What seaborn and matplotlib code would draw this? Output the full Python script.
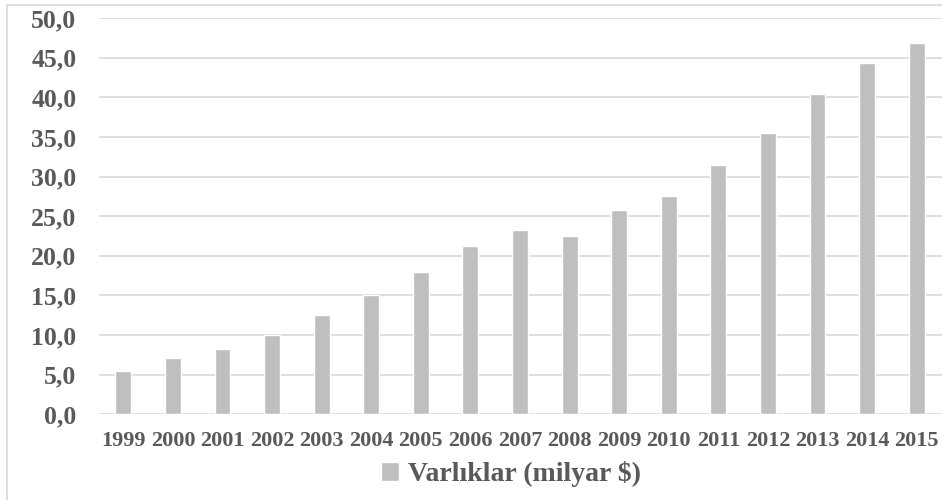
import matplotlib
matplotlib.use("Agg")
import matplotlib.pyplot as plt
from matplotlib.patches import Rectangle
from matplotlib.ticker import FuncFormatter, MultipleLocator
import seaborn as sns
import pandas as pd

years = ["1999", "2000", "2001", "2002", "2003", "2004", "2005", "2006", "2007",
         "2008", "2009", "2010", "2011", "2012", "2013", "2014", "2015"]
assets = [5.5, 7.1, 8.2, 10.0, 12.5, 15.1, 18.0, 21.2, 23.3,
          22.5, 25.8, 27.6, 31.5, 35.5, 40.4, 44.3, 46.9]
series_label = "Varlıklar (milyar $)"

BAR = "#BFBFBF"
TEXT = "#595959"
GRID = "#D9D9D9"

sns.set_theme(style="white")
plt.rcParams["font.family"] = ["Liberation Serif", "DejaVu Serif"]
plt.rcParams["font.weight"] = "bold"

df = pd.DataFrame({"year": years, "value": assets})

fig = plt.figure(figsize=(9.42, 5.0), dpi=100)
ax = fig.add_axes([98.5 / 942, 1 - 414.3 / 500, 843 / 942, (414.3 - 18) / 500])

sns.barplot(data=df, x="year", y="value", color=BAR, saturation=1, width=0.32,
            label=series_label, ax=ax, zorder=3)

ax.set_ylim(0, 50)
ax.set_xlim(-0.5, len(years) - 0.5)
ax.yaxis.set_major_locator(MultipleLocator(5))
ax.yaxis.set_major_formatter(FuncFormatter(lambda v, _: f"{v:.1f}".replace(".", ",")))
ax.grid(axis="y", color=GRID, linewidth=1.2, zorder=0)
ax.grid(axis="x", visible=False)
for s in ax.spines.values():
    s.set_visible(False)
ax.set_xlabel("")
ax.set_ylabel("")
ax.tick_params(axis="y", length=0, pad=16, labelsize=18.5, labelcolor=TEXT)
ax.tick_params(axis="x", length=0, pad=12, labelsize=16, labelcolor=TEXT)
for lbl in ax.get_xticklabels() + ax.get_yticklabels():
    lbl.set_fontweight("bold")

if ax.get_legend() is not None:
    ax.get_legend().remove()
handles, labels = ax.get_legend_handles_labels()
fig.legend(handles, labels, loc="center", bbox_to_anchor=(511 / 942, 1 - 474 / 500),
           frameon=False, handlelength=0.65, handleheight=0.65, handletextpad=0.35,
           prop={"family": "Liberation Serif", "weight": "bold", "size": 20},
           labelcolor=TEXT)

# chart-area border
fig.patches.append(Rectangle((7 / 942, -0.2), 1.2, 1.2 - 4.7 / 500 + 0.0,
                             transform=fig.transFigure, fill=False,
                             edgecolor=GRID, linewidth=1.2, zorder=0))

fig.savefig("out.png", dpi=100, facecolor="white")
